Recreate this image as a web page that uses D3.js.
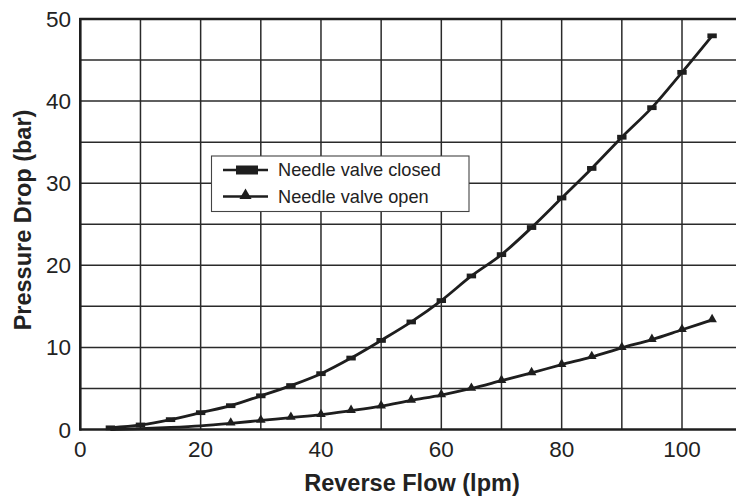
<!DOCTYPE html>
<html>
<head>
<meta charset="utf-8">
<script src="https://cdn.jsdelivr.net/npm/d3@7"></script>
<style>
  html, body { margin: 0; padding: 0; background: #fff; }
  svg { display: block; }
  text { font-family: "Liberation Sans", Arial, Helvetica, sans-serif; fill: #222; }
</style>
</head>
<body>
<svg id="chart" width="736" height="501"></svg>
<script>
// ---- data ----
const closedFlow = [5, 10, 15, 20, 25, 30, 35, 40, 45, 50, 55, 60, 65, 70, 75, 80, 85, 90, 95, 100, 105];
const closedDrop = [0.2, 0.55, 1.2, 2.05, 2.9, 4.1, 5.35, 6.8, 8.7, 10.85, 13.1, 15.7, 18.7, 21.3, 24.6, 28.2, 31.8, 35.6, 39.2, 43.5, 47.95];
const openFlow = [5, 10, 15, 20, 25, 30, 35, 40, 45, 50, 55, 60, 65, 70, 75, 80, 85, 90, 95, 100, 105];
const openDrop = [0.0, 0.1, 0.25, 0.45, 0.75, 1.1, 1.45, 1.8, 2.3, 2.85, 3.55, 4.2, 5.0, 5.95, 6.9, 7.9, 8.85, 9.95, 10.95, 12.15, 13.35];
const openMarkerStart = 25; // triangles drawn from this flow on
const xTicks = [0, 20, 40, 60, 80, 100];
const yTicks = [0, 10, 20, 30, 40, 50];
const xGrid = [10, 20, 30, 40, 50, 60, 70, 80, 90, 100];
const yGrid = [5, 10, 15, 20, 25, 30, 35, 40, 45];
const seriesNames = ["Needle valve closed", "Needle valve open"];
const xTitle = "Reverse Flow (lpm)";
const yTitle = "Pressure Drop (bar)";

// ---- layout ----
const svg = d3.select("#chart");
const x = d3.scaleLinear().domain([0, 100]).range([80.3, 682]);
const y = d3.scaleLinear().domain([0, 50]).range([429.5, 19]);
const xRight = 740;
const ink = "#1e1e1e";
const gridInk = "#2a2a2a";

// grid
const g = svg.append("g");
g.selectAll("line.vg").data(xGrid).enter().append("line")
  .attr("x1", d => x(d)).attr("x2", d => x(d))
  .attr("y1", y(50)).attr("y2", y(0))
  .attr("stroke", gridInk).attr("stroke-width", 1.5);
g.selectAll("line.hg").data(yGrid).enter().append("line")
  .attr("x1", x(0)).attr("x2", xRight)
  .attr("y1", d => y(d)).attr("y2", d => y(d))
  .attr("stroke", gridInk).attr("stroke-width", 1.5);

// frame: left, top, bottom
g.append("line").attr("x1", x(0)).attr("x2", x(0)).attr("y1", y(50) - 1).attr("y2", y(0) + 1)
  .attr("stroke", ink).attr("stroke-width", 2.6);
g.append("line").attr("x1", x(0) - 1).attr("x2", xRight).attr("y1", y(50)).attr("y2", y(50))
  .attr("stroke", ink).attr("stroke-width", 2.4);
g.append("line").attr("x1", x(0) - 1).attr("x2", xRight).attr("y1", y(0)).attr("y2", y(0))
  .attr("stroke", ink).attr("stroke-width", 2.6);

// tick labels
svg.append("g").selectAll("text").data(xTicks).enter().append("text")
  .attr("x", d => x(d)).attr("y", 457)
  .attr("text-anchor", "middle").attr("font-size", 22.5).text(d => d);
svg.append("g").selectAll("text").data(yTicks).enter().append("text")
  .attr("x", 71).attr("y", d => y(d) + 8)
  .attr("text-anchor", "end").attr("font-size", 22.5).text(d => d);

// axis titles
svg.append("text").attr("x", 412).attr("y", 491)
  .attr("text-anchor", "middle").attr("font-size", 23.5).attr("font-weight", "bold").text(xTitle);
svg.append("text").attr("transform", "translate(31,220) rotate(-90)")
  .attr("text-anchor", "middle").attr("font-size", 23.5).attr("font-weight", "bold").text(yTitle);

// series
const closed = closedFlow.map((f, i) => ({ x: f, y: closedDrop[i] }));
const open = openFlow.map((f, i) => ({ x: f, y: openDrop[i] }));
const line = d3.line().x(d => x(d.x)).y(d => y(d.y)).curve(d3.curveMonotoneX);

svg.append("path").datum(closed).attr("d", line)
  .attr("fill", "none").attr("stroke", ink).attr("stroke-width", 2.8);
svg.append("path").datum(open).attr("d", line)
  .attr("fill", "none").attr("stroke", ink).attr("stroke-width", 2.8);

svg.append("g").selectAll("rect").data(closed).enter().append("rect")
  .attr("x", d => x(d.x) - 4.7).attr("y", d => y(d.y) - 2.4)
  .attr("width", 9.4).attr("height", 4.8).attr("fill", ink);

const tri = d3.symbol().type(d3.symbolTriangle).size(40);
svg.append("g").selectAll("path").data(open.filter(d => d.x >= openMarkerStart)).enter().append("path")
  .attr("d", tri)
  .attr("transform", d => `translate(${x(d.x)},${y(d.y) - 0.5})`)
  .attr("fill", ink);

// legend
const lg = svg.append("g");
lg.append("rect").attr("x", 211.5).attr("y", 156).attr("width", 257.5).attr("height", 55.5)
  .attr("fill", "#fff").attr("stroke", "#444").attr("stroke-width", 1.1);
const ly = [170, 196.5];
lg.selectAll("line").data(seriesNames).enter().append("line")
  .attr("x1", 223).attr("x2", 268).attr("y1", (d, i) => ly[i]).attr("y2", (d, i) => ly[i])
  .attr("stroke", ink).attr("stroke-width", 2.6);
lg.append("rect").attr("x", 236).attr("y", ly[0] - 4.5).attr("width", 22).attr("height", 9).attr("fill", ink);
lg.append("path").attr("d", d3.symbol().type(d3.symbolTriangle).size(64))
  .attr("transform", `translate(245.5,${ly[1] - 1})`).attr("fill", ink);
lg.selectAll("text").data(seriesNames).enter().append("text")
  .attr("x", 278).attr("y", (d, i) => ly[i] + 6.3)
  .attr("font-size", 18.2).text(d => d);
</script>
</body>
</html>
